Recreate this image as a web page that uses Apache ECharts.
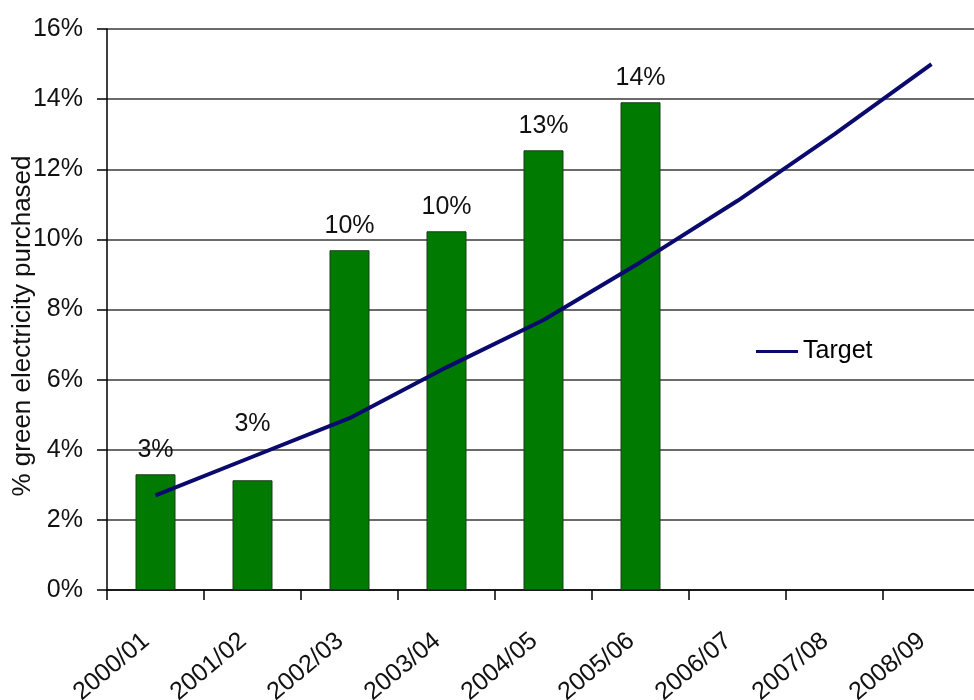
<!DOCTYPE html>
<html>
<head>
<meta charset="utf-8">
<script src="https://cdn.jsdelivr.net/npm/echarts@6/dist/echarts.min.js"></script>
<style>
html,body{margin:0;padding:0;background:#fff;}
#chart{width:974px;height:700px;}
</style>
</head>
<body>
<div id="chart"></div>
<script>
const categories = ['2000/01','2001/02','2002/03','2003/04','2004/05','2005/06','2006/07','2007/08','2008/09'];
const purchased = [3.3, 3.13, 9.69, 10.23, 12.54, 13.91, null, null, null];
const target = [2.7, 3.8, 4.9, 6.35, 7.7, 9.35, 11.1, 13.0, 15.0];
const yTicks = [0, 2, 4, 6, 8, 10, 12, 14, 16];
const yAxisTitle = '% green electricity purchased';
const seriesName = 'Target';

const font = 'Liberation Sans, Arial, sans-serif';
const chart = echarts.init(document.getElementById('chart'), null, {renderer: 'canvas'});

const barData = purchased.map(function (v, i) {
  if (v === null) return null;
  const item = {value: v};
  if (i === 1) item.label = {distance: 44};
  return item;
});

chart.setOption({
  animation: false,
  backgroundColor: '#ffffff',
  grid: {left: 107, top: 29, width: 873, bottom: 110, containLabel: false, outerBoundsMode: 'none'},
  legend: {
    data: [{name: seriesName, icon: 'rect'}],
    left: 751, top: 334,
    itemWidth: 42, itemHeight: 3, itemGap: 6,
    textStyle: {fontFamily: font, fontSize: 25, color: '#000'}
  },
  xAxis: {
    type: 'category',
    data: categories,
    boundaryGap: true,
    axisLine: {lineStyle: {color: '#000', width: 1.5}},
    axisTick: {show: true, length: 10, alignWithLabel: false, lineStyle: {color: '#000', width: 1.5}},
    axisLabel: {rotate: 40, margin: 40, interval: 0, padding: [0, 12, 0, 0], fontFamily: font, fontSize: 25, color: '#111'}
  },
  yAxis: {
    type: 'value',
    min: yTicks[0], max: yTicks[yTicks.length - 1], interval: 2,
    name: yAxisTitle,
    nameLocation: 'middle',
    nameGap: 71,
    nameMoveOverlap: false,
    nameTextStyle: {fontFamily: font, fontSize: 26, color: '#111', padding: [0, 33, 0, 0]},
    axisLine: {show: true, lineStyle: {color: '#000', width: 1.5}},
    axisTick: {show: true, length: 10, lineStyle: {color: '#000', width: 1.5}},
    axisLabel: {margin: 24, formatter: '{value}%', fontFamily: font, fontSize: 25, color: '#111'},
    splitLine: {show: true, lineStyle: {color: '#3a3a3a', width: 1.5}}
  },
  series: [
    {
      name: 'Purchased',
      type: 'bar',
      data: barData,
      barWidth: 40,
      itemStyle: {color: '#007a00', borderColor: '#1c3a1c', borderWidth: 1},
      label: {
        show: true, position: 'top', distance: 12,
        fontFamily: font, fontSize: 25, color: '#111',
        formatter: function (p) { return Math.round(p.value) + '%'; }
      },
      z: 2
    },
    {
      name: seriesName,
      type: 'line',
      data: target,
      symbol: 'none',
      lineStyle: {color: '#0a0a6e', width: 4},
      itemStyle: {color: '#0a0a6e'},
      z: 3
    }
  ]
});
</script>
</body>
</html>
